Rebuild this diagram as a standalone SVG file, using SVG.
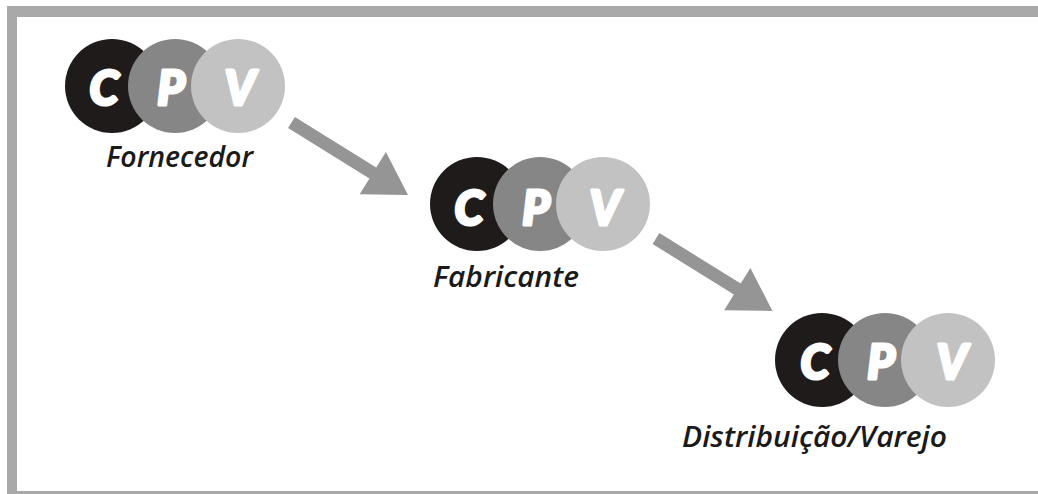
<svg xmlns="http://www.w3.org/2000/svg" width="1038" height="494" viewBox="0 0 1038 494">
  <style>
    .c { fill: #1f1b1b; }
    .p { fill: #868686; }
    .v { fill: #c2c2c2; }
    .letter { font-family: "Lato Black", Lato, "Open Sans", "DejaVu Sans", sans-serif; font-weight: 900; font-style: italic; font-size: 47px; fill: #ffffff; stroke: #ffffff; stroke-width: 3; stroke-linejoin: round; text-anchor: middle; }
    .label { font-family: "Open Sans", "DejaVu Sans", sans-serif; font-weight: 600; font-style: italic; font-size: 29px; fill: #1a1a1a; }
    .frame { fill: #a9a9a9; }
    .arrow { fill: #959595; }
  </style>
  <defs>
    <!-- thick block arrow, tail at origin, pointing down-right -->
    <polygon id="blockArrow" points="3.4,-5.5 84.7,45.1 94.4,29.5 116.5,72.5 68.2,71.7 77.9,56.1 -3.4,5.5"/>
  </defs>

  <rect width="1038" height="494" fill="#ffffff"/>

  <!-- frame -->
  <g id="frame">
    <rect class="frame" x="7" y="6" width="1031" height="11"/>
    <rect class="frame" x="7" y="6" width="10" height="488"/>
    <rect class="frame" x="17" y="491" width="1021" height="3"/>
  </g>

  <!-- connectors -->
  <g id="connectors">
    <use href="#blockArrow" class="arrow" transform="translate(291.5,122.5)"/>
    <use href="#blockArrow" class="arrow" transform="translate(656,238.5)"/>
  </g>

  <g id="fornecedor">
    <circle class="c" cx="112" cy="86" r="47"/>
    <circle class="p" cx="175" cy="86" r="47"/>
    <circle class="v" cx="238" cy="86" r="47"/>
    <text class="letter" x="104" y="105">C</text>
    <text class="letter" x="171" y="105">P</text>
    <text class="letter" x="240" y="105">V</text>
    <text class="label" x="106" y="167" textLength="147" lengthAdjust="spacingAndGlyphs">Fornecedor</text>
  </g>

  <g id="fabricante">
    <circle class="c" cx="477" cy="204" r="47"/>
    <circle class="p" cx="540" cy="204" r="47"/>
    <circle class="v" cx="603" cy="204" r="47"/>
    <text class="letter" x="469" y="225">C</text>
    <text class="letter" x="536" y="225">P</text>
    <text class="letter" x="605" y="225">V</text>
    <text class="label" x="433" y="287" textLength="146" lengthAdjust="spacingAndGlyphs">Fabricante</text>
  </g>

  <g id="distribuicao">
    <circle class="c" cx="822" cy="360" r="47"/>
    <circle class="p" cx="885" cy="360" r="47"/>
    <circle class="v" cx="948" cy="360" r="47"/>
    <text class="letter" x="815" y="379">C</text>
    <text class="letter" x="881" y="379">P</text>
    <text class="letter" x="952" y="379">V</text>
    <text class="label" x="682" y="447" textLength="265" lengthAdjust="spacingAndGlyphs">Distribuição/Varejo</text>
  </g>
</svg>
